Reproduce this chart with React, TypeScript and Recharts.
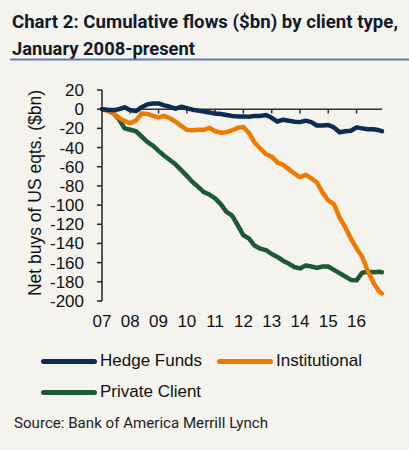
import React from "react";
import { LineChart, Line, XAxis, YAxis, ReferenceLine } from "recharts";

// decimal year (7 = 2007 label position), sampled every ~0.2 yr
const periods = [
  7.0, 7.2, 7.4, 7.6, 7.8, 8.0, 8.2, 8.4, 8.6, 8.8,
  9.0, 9.2, 9.4, 9.6, 9.8, 10.0, 10.2, 10.4, 10.6, 10.8,
  11.0, 11.2, 11.4, 11.6, 11.8, 12.0, 12.2, 12.4, 12.6, 12.8,
  13.0, 13.2, 13.4, 13.6, 13.8, 14.0, 14.2, 14.4, 14.6, 14.8,
  15.0, 15.2, 15.4, 15.6, 15.8, 16.0, 16.2, 16.4, 16.6, 16.8, 16.9,
];

const hedgeFunds = [
  0, -0.5, -1, 0, 2, -1, -2, 2, 5, 6,
  6, 4, 2.5, 0.5, 2.5, 1, -0.5, -1.5, -2.5, -3.5,
  -4.5, -5, -6, -7, -7.5, -7.5, -7.8, -7, -7, -6,
  -9, -13, -11, -12, -13, -13.5, -12, -13.5, -17, -17,
  -16.5, -19, -24, -23, -22.5, -19, -20, -21, -21, -22, -23,
];

const institutional = [
  0, -1.5, -4, -9, -12.5, -14.5, -12, -4.5, -5, -7,
  -8.5, -7, -9.5, -13, -17.5, -21.5, -22, -21.5, -21.5, -19.5,
  -23, -24.5, -24, -22, -19.5, -18.5, -25, -35, -41, -47,
  -49.5, -55.5, -58, -62.5, -67, -71, -68.5, -72, -76.5, -87,
  -95, -99, -113, -123, -135, -145, -154, -169, -181, -190, -192,
];

const privateClient = [
  0, -1.5, -4.3, -10.5, -20, -21.5, -23, -28.5, -34, -38,
  -43.5, -48.5, -53, -57.5, -63.5, -69.5, -76, -81, -86.5, -89,
  -93, -99, -107, -111, -121, -131.5, -135, -142.5, -145.5, -147,
  -151, -154, -158, -161, -164.5, -166, -163, -164, -165.5, -164,
  -164, -167.5, -171, -174.5, -178, -178.5, -170.5, -169.5, -170, -169.5, -170,
];

const xTicks = [7, 8, 9, 10, 11, 12, 13, 14, 15, 16];
const xTickLabels = ["07", "08", "09", "10", "11", "12", "13", "14", "15", "16"];
const yTicks = [20, 0, -20, -40, -60, -80, -100, -120, -140, -160, -180, -200];

const series = [
  { key: "privateClient", name: "Private Client", color: "#1d5934" },
  { key: "institutional", name: "Institutional", color: "#ee7a00" },
  { key: "hedgeFunds", name: "Hedge Funds", color: "#0c2c55" },
];
const legendOrder = ["hedgeFunds", "institutional", "privateClient"];

const data = periods.map((t, i) => ({
  t,
  hedgeFunds: hedgeFunds[i],
  institutional: institutional[i],
  privateClient: privateClient[i],
}));

const BG = "#f4f3ee";
const AXIS = "#222";
const FONT = "'Liberation Sans', Arial, sans-serif";

function LegendBox() {
  const items = legendOrder.map((k) => series.find((s) => s.key === k)!);
  return (
    <div style={{ position: "absolute", left: 41, top: 351, width: 360, height: 62, fontFamily: FONT, fontSize: 17, color: "#111" }}>
      {items.map((s, i) => (
        <div
          key={s.key}
          style={{
            position: "absolute",
            left: i === 1 ? 176 : 0,
            top: i === 2 ? 31 : 0,
            display: "flex",
            alignItems: "center",
            height: 20,
            whiteSpace: "nowrap",
          }}
        >
          <span style={{ display: "inline-block", width: 56, height: 5, borderRadius: 3, background: s.color, marginRight: 3 }} />
          <span>{s.name}</span>
        </div>
      ))}
    </div>
  );
}

export default function App() {
  return (
    <div style={{ position: "fixed", left: 0, top: 0, width: 409, height: 450, background: BG, overflow: "hidden" }}>
      <svg width={409} height={62} style={{ position: "absolute", left: 0, top: 0 }}>
        <g fontFamily="Roboto, sans-serif" fontWeight={700} fontSize={19} fill="#111a2b">
          <text x={12} y={28} textLength={386} lengthAdjust="spacingAndGlyphs">
            Chart 2: Cumulative flows ($bn) by client type,
          </text>
          <text x={12} y={55} textLength={183} lengthAdjust="spacingAndGlyphs">
            January 2008-present
          </text>
        </g>
        <line x1={10} x2={409} y1={59.5} y2={59.5} stroke="#5d7cab" strokeWidth={1.8} />
      </svg>

      <div
        style={{
          position: "absolute",
          left: 35,
          top: 193,
          transform: "translate(-50%, -50%) rotate(-90deg)",
          whiteSpace: "nowrap",
          fontFamily: FONT,
          fontSize: 17.5,
          color: "#111",
        }}
      >
        Net buys of US eqts. ($bn)
      </div>

      <div style={{ position: "absolute", left: 0, top: 0 }}>
        <LineChart width={409} height={345} data={data} margin={{ top: 90, right: 27, left: 0, bottom: 0 }}>
          <XAxis
            dataKey="t"
            type="number"
            domain={[7, 16.9]}
            ticks={xTicks}
            interval={0}
            tickFormatter={(v: number) => xTickLabels[xTicks.indexOf(v)] ?? ""}
            axisLine={false}
            tickLine={false}
            tickSize={0}
            tickMargin={14}
            height={44}
            tick={{ fontSize: 17, fill: "#111", fontFamily: FONT }}
          />
          <YAxis
            type="number"
            domain={[-200, 20]}
            ticks={yTicks}
            interval={0}
            width={102}
            axisLine={{ stroke: AXIS, strokeWidth: 1.5 }}
            tickLine={{ stroke: AXIS, strokeWidth: 1.5 }}
            tickSize={5}
            tickMargin={13}
            tick={{ fontSize: 17, fill: "#111", fontFamily: FONT }}
          />
          <ReferenceLine y={0} stroke="#333" strokeWidth={1.5} />
          {xTicks.slice(1).map((t) => (
            <ReferenceLine
              key={t}
              segment={[{ x: t, y: 0 }, { x: t, y: -4.5 }]}
              stroke="#333"
              strokeWidth={1.5}
            />
          ))}
          {series.map((s) => (
            <Line
              key={s.key}
              dataKey={s.key}
              name={s.name}
              stroke={s.color}
              strokeWidth={4.5}
              dot={false}
              type="linear"
              strokeLinejoin="round"
              strokeLinecap="round"
              isAnimationActive={false}
            />
          ))}
        </LineChart>
      </div>

      <LegendBox />

      <svg width={409} height={30} style={{ position: "absolute", left: 0, top: 410 }}>
        <text x={14} y={18} fontFamily="Roboto, sans-serif" fontSize={15} fill="#222" textLength={254} lengthAdjust="spacingAndGlyphs">
          Source: Bank of America Merrill Lynch
        </text>
      </svg>
    </div>
  );
}
